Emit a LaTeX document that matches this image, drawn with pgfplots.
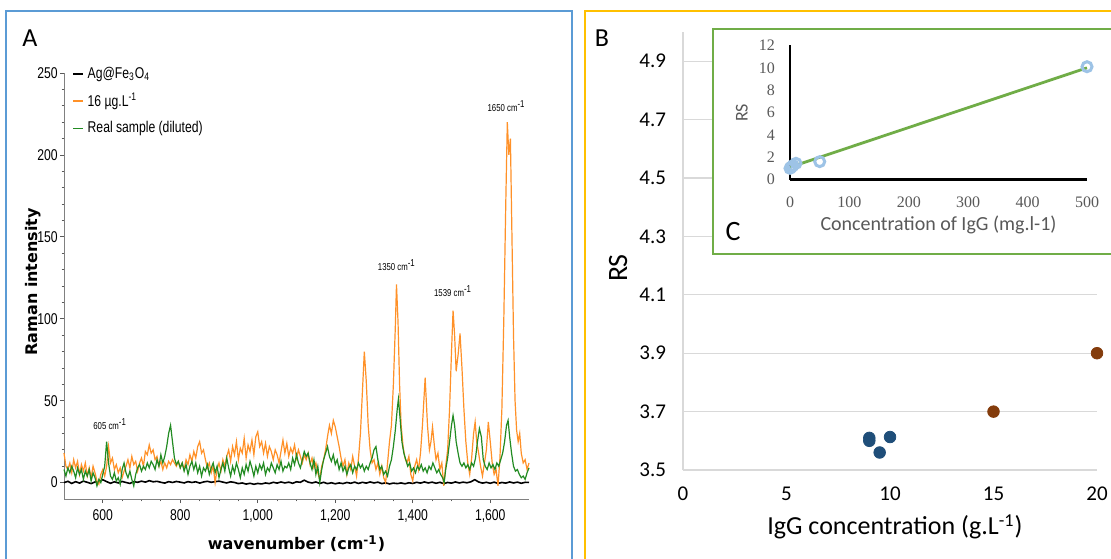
\documentclass[border=0pt]{standalone}
\usepackage{fontspec}
\setmainfont{Carlito}
\newfontfamily\condfont{Liberation Sans}[FakeStretch=0.78]
\newfontfamily\dvs{DejaVu Sans}
\newfontfamily\serf{Liberation Serif}
\usepackage{pgfplots}
\pgfplotsset{compat=1.18}
\definecolor{borderblue}{HTML}{5B9BD5}
\definecolor{bordergold}{HTML}{FFC000}
\definecolor{insetgreen}{HTML}{70AD47}
\definecolor{ramanorange}{RGB}{255,145,40}
\definecolor{ramangreen}{RGB}{34,139,34}
\definecolor{dotblue}{HTML}{1F4E79}
\definecolor{dotbrown}{HTML}{843C0C}
\definecolor{circblue}{HTML}{9DC3E6}
\definecolor{gridgray}{HTML}{D9D9D9}
\definecolor{txtgray}{HTML}{595959}
\begin{document}
\begin{tikzpicture}
\useasboundingbox (0,0) rectangle (555.5pt,279pt);
\clip (0,0) rectangle (555.5pt,279pt);
\draw[borderblue,line width=1.2pt] (3pt,-5pt) rectangle (286pt,273.5pt);
\draw[bordergold,line width=1.2pt] (292.5pt,-5pt) rectangle (560pt,273.5pt);
\node[font=\fontsize{13}{13}\selectfont] at (15pt,260pt) {A};
\node[font=\fontsize{13}{13}\selectfont] at (301pt,260pt) {B};
% ---------------- Panel A
\begin{axis}[at={(32pt,29.5pt)}, anchor=south west, scale only axis,
  width=232.5pt, height=213pt,
  xmin=500, xmax=1700, ymin=-10, ymax=250,
  axis lines*=left,
  axis line style={gray, line width=0.5pt},
  tick style={gray!70!black, line width=0.4pt},
  tick align=outside, major tick length=2pt, minor tick length=1.2pt,
  xtick={600,800,...,1600}, minor x tick num=3,
  ytick={0,50,...,250}, minor y tick num=4,
  /pgf/number format/assume math mode=true,
  /pgf/number format/1000 sep={,},
  tick label style={font=\condfont\fontsize{7.8}{9}\selectfont},
  yticklabel style={inner sep=1pt},
  xlabel={\dvs\bfseries wavenumber (cm\textsuperscript{-1})},
  ylabel={\dvs\bfseries Raman intensity},
  xlabel style={at={(axis description cs:0.5,-0.105)}, anchor=center, font=\fontsize{8}{9}\selectfont},
  ylabel style={at={(axis description cs:-0.067,0.51)}, anchor=center, font=\fontsize{8}{9}\selectfont},
  legend style={at={(rel axis cs:0.017,1.025)}, anchor=north west, draw=none, fill=none,
    font=\condfont\fontsize{7.8}{9}\selectfont, row sep=2pt, inner sep=0pt},
  legend cell align=left,
  legend image code/.code={\draw[#1,line width=0.7pt] (0pt,0pt) -- (5pt,0pt);},
  clip=false,
]
\addplot[black, line width=0.8pt] coordinates {
(500,0)(510,0.8)(520,-0.5)(530,0.6)(540,-0.3)(550,0.9)(560,0.2)(570,-0.6)(580,0.4)(590,0.5)(600,1.8)(610,0.6)(620,-0.4)(630,0.5)(640,-0.2)(650,0.7)(660,0.1)(670,-0.5)(680,0.6)(690,0.2)(700,0.9)(710,0.3)(720,1.2)(730,0.5)(740,0.8)(750,0.2)(760,-0.3)(770,0.6)(780,0.1)(790,0.7)(800,0.3)(810,-0.2)(820,0.6)(830,0.1)(840,0.5)(850,-0.3)(860,0.4)(870,0.8)(880,0.2)(890,0.6)(900,0.9)(910,0.3)(920,-0.2)(930,0.5)(940,0.1)(950,-0.6)(960,-0.2)(970,-0.9)(980,-0.4)(990,-1.0)(1000,-0.5)(1010,-0.8)(1020,-0.2)(1030,-0.6)(1040,0.2)(1050,-0.3)(1060,0.4)(1070,-0.2)(1080,0.3)(1090,-0.4)(1100,0.5)(1110,0.2)(1120,1.5)(1130,0.3)(1140,-0.2)(1150,0.4)(1160,-0.5)(1170,0.2)(1180,-0.6)(1190,-0.1)(1200,-0.7)(1210,-0.2)(1220,-0.6)(1230,0.1)(1240,-0.4)(1250,0.3)(1260,-0.5)(1270,0.2)(1280,-0.3)(1290,0.4)(1300,-0.2)(1310,0.3)(1320,-0.6)(1330,-0.1)(1340,-0.8)(1350,-0.3)(1360,-0.6)(1370,-0.2)(1380,-0.7)(1390,-0.1)(1400,-0.5)(1410,0.2)(1420,-0.3)(1430,0.4)(1440,-0.2)(1450,0.3)(1460,-0.4)(1470,0.2)(1480,-0.6)(1490,0.1)(1500,-0.3)(1510,0.4)(1520,-0.2)(1530,0.3)(1540,-0.1)(1550,0.5)(1560,1.8)(1570,0.4)(1580,-0.3)(1590,0.2)(1600,-0.4)(1610,0.3)(1620,-0.5)(1630,0.1)(1640,-0.3)(1650,0.4)(1660,-0.2)(1670,0.3)(1680,-0.4)(1690,0.2)(1700,0.1)};
\addlegendentry{Ag@Fe\textsubscript{3}O\textsubscript{4}}
\addplot[ramanorange, line width=0.6pt] coordinates {
(500,18)(505,10)(510,8)(515,12)(520,6)(525,14)(530,9)(535,13)(540,5)(545,11)(550,7)(555,12)(560,4)(565,9)(570,3)(575,10)(580,6)(585,1)(590,-1)(595,5)(600,8)(605,4)(610,10)(615,22)(620,12)(625,15)(630,8)(635,11)(640,6)(645,9)(650,3)(655,7)(660,10)(665,14)(670,9)(675,16)(680,11)(685,13)(690,7)(695,12)(700,15)(705,10)(710,19)(715,17)(720,23)(725,18)(730,20)(735,14)(740,16)(745,10)(750,13)(755,8)(760,12)(765,9)(770,13)(775,11)(780,14)(785,12)(790,10)(795,13)(800,9)(805,12)(810,8)(815,14)(820,11)(825,17)(830,13)(835,19)(840,15)(845,22)(850,25)(855,18)(860,20)(865,14)(870,9)(875,12)(880,6)(885,10)(890,0)(895,8)(900,12)(905,7)(910,14)(915,10)(920,16)(925,20)(930,13)(935,22)(940,17)(945,25)(950,14)(955,21)(960,18)(965,27)(970,15)(975,23)(980,19)(985,26)(990,17)(995,28)(1000,31)(1005,22)(1010,25)(1015,18)(1020,24)(1025,16)(1030,22)(1035,19)(1040,14)(1045,20)(1050,17)(1055,12)(1060,19)(1065,26)(1070,18)(1075,24)(1080,16)(1085,21)(1090,18)(1095,23)(1100,15)(1105,20)(1110,16)(1115,12)(1120,17)(1125,14)(1130,18)(1135,11)(1140,15)(1145,9)(1150,12)(1155,6)(1160,2)(1165,10)(1170,14)(1175,20)(1180,28)(1185,35)(1190,30)(1195,38)(1200,34)(1205,28)(1210,22)(1215,15)(1220,10)(1225,14)(1230,5)(1235,12)(1240,8)(1245,16)(1250,10)(1255,4)(1260,15)(1265,30)(1270,55)(1275,80)(1280,62)(1285,35)(1290,20)(1295,12)(1300,14)(1305,8)(1310,12)(1315,5)(1320,10)(1325,3)(1330,0)(1335,12)(1340,25)(1345,35)(1350,60)(1355,95)(1358,121)(1362,98)(1366,60)(1370,35)(1375,22)(1380,15)(1385,12)(1390,16)(1395,5)(1400,1)(1405,10)(1410,14)(1415,8)(1420,18)(1425,35)(1432,64)(1438,35)(1443,20)(1447,25)(1451,34)(1456,22)(1460,14)(1465,18)(1470,8)(1475,12)(1480,-2)(1485,10)(1490,20)(1495,45)(1500,80)(1504,105)(1508,90)(1512,68)(1517,78)(1522,91)(1527,70)(1532,45)(1537,25)(1542,12)(1547,5)(1552,15)(1557,30)(1561,37)(1565,25)(1570,18)(1575,10)(1580,4)(1585,12)(1590,20)(1595,37)(1600,25)(1605,12)(1610,5)(1615,8)(1620,-2)(1625,15)(1630,45)(1635,100)(1640,170)(1644,220)(1648,200)(1652,210)(1656,150)(1660,90)(1664,50)(1668,32)(1672,25)(1676,30)(1680,18)(1685,12)(1690,14)(1695,8)(1700,12)};
\addlegendentry{16 µg.L\textsuperscript{-1}}
\addplot[ramangreen, line width=0.6pt] coordinates {
(500,8)(505,4)(510,9)(515,6)(520,10)(525,7)(530,3)(535,9)(540,5)(545,8)(550,2)(555,7)(560,4)(565,8)(570,1)(575,6)(580,3)(585,-2)(590,2)(595,0)(600,5)(605,10)(610,25)(615,12)(620,4)(625,2)(630,6)(635,1)(640,3)(645,-1)(650,8)(655,12)(660,6)(665,3)(670,7)(675,2)(680,-2)(685,5)(690,9)(695,11)(700,7)(705,10)(710,8)(715,12)(720,9)(725,13)(730,11)(735,8)(740,14)(745,10)(750,17)(755,12)(760,16)(765,22)(770,30)(775,35)(780,25)(785,15)(790,11)(795,13)(800,9)(805,12)(810,7)(815,11)(820,5)(825,10)(830,13)(835,8)(840,12)(845,6)(850,10)(855,4)(860,9)(865,7)(870,11)(875,5)(880,9)(885,12)(890,6)(895,10)(900,3)(905,8)(910,12)(915,7)(920,15)(925,9)(930,4)(935,10)(940,6)(945,12)(950,8)(955,3)(960,9)(965,5)(970,11)(975,7)(980,13)(985,9)(990,4)(995,10)(1000,6)(1005,11)(1010,8)(1015,12)(1020,5)(1025,9)(1030,7)(1035,12)(1040,9)(1045,6)(1050,11)(1055,8)(1060,13)(1065,7)(1070,10)(1075,9)(1080,12)(1085,8)(1090,15)(1095,11)(1100,17)(1105,12)(1110,9)(1115,14)(1120,19)(1125,16)(1130,18)(1135,12)(1140,8)(1145,14)(1150,5)(1155,10)(1160,0)(1165,8)(1170,14)(1175,18)(1180,22)(1185,16)(1190,13)(1195,17)(1200,11)(1205,14)(1210,8)(1215,12)(1220,7)(1225,10)(1230,5)(1235,9)(1240,11)(1245,6)(1250,10)(1255,8)(1260,12)(1265,9)(1270,11)(1275,7)(1280,10)(1285,8)(1290,12)(1295,15)(1300,20)(1305,22)(1310,14)(1315,8)(1320,10)(1325,5)(1330,7)(1335,4)(1340,10)(1345,14)(1350,22)(1355,32)(1360,45)(1363,51)(1367,40)(1372,25)(1377,18)(1382,14)(1387,10)(1392,12)(1397,7)(1402,9)(1407,6)(1412,10)(1417,8)(1422,11)(1427,7)(1432,9)(1437,6)(1442,10)(1447,8)(1452,12)(1457,9)(1462,6)(1467,8)(1472,5)(1477,3)(1481,0)(1485,8)(1490,15)(1495,25)(1500,35)(1504,41)(1508,35)(1512,25)(1517,18)(1522,12)(1527,10)(1532,12)(1537,9)(1542,11)(1547,8)(1552,12)(1557,10)(1562,15)(1567,25)(1572,33)(1577,28)(1582,14)(1587,10)(1592,8)(1597,12)(1602,9)(1607,11)(1612,8)(1617,12)(1622,10)(1627,14)(1632,18)(1637,25)(1642,35)(1646,38)(1650,28)(1655,18)(1660,10)(1665,7)(1670,8)(1675,5)(1680,3)(1685,4)(1690,2)(1695,6)(1700,9)};
\addlegendentry{Real sample (diluted)}
\node[font=\condfont\fontsize{5}{6}\selectfont] at (axis cs:619,36) {605 cm\textsuperscript{-1}};
\node[font=\condfont\fontsize{5}{6}\selectfont] at (axis cs:1359,133) {1350 cm\textsuperscript{-1}};
\node[font=\condfont\fontsize{5}{6}\selectfont] at (axis cs:1504,117) {1539 cm\textsuperscript{-1}};
\node[font=\condfont\fontsize{5}{6}\selectfont] at (axis cs:1642,230) {1650 cm\textsuperscript{-1}};
\end{axis}
% ---------------- Panel B
\begin{axis}[at={(341.5pt,44pt)}, anchor=south west, scale only axis,
  width=207pt, height=219pt,
  xmin=0, xmax=20, ymin=3.5, ymax=5.0,
  axis lines*=left,
  axis line style={gridgray, line width=0.6pt},
  ymajorgrids, grid style={gridgray, line width=0.6pt},
  major tick length=0pt,
  xtick={0,5,10,15,20},
  ytick={3.5,3.7,3.9,4.1,4.3,4.5,4.7,4.9},
  /pgf/number format/assume math mode=true,
  yticklabel style={/pgf/number format/fixed, /pgf/number format/fixed zerofill, /pgf/number format/precision=1, xshift=-5pt},
  xticklabel style={yshift=-5pt},
  tick label style={font=\fontsize{10.5}{12}\selectfont},
  xlabel={IgG concentration (g.L\textsuperscript{-1})},
  ylabel={RS},
  xlabel style={at={(axis description cs:0.512,-0.13)}, anchor=center, font=\fontsize{13}{15}\selectfont},
  ylabel style={at={(axis description cs:-0.157,0.461)}, anchor=center, font=\fontsize{14}{16}\selectfont},
  clip=false,
]
\addplot[only marks, mark=*, mark size=2.9pt, dotblue] coordinates {(9,3.61)(9,3.60)(9.5,3.56)(10,3.613)};
\addplot[only marks, mark=*, mark size=2.9pt, dotbrown] coordinates {(15,3.70)(20,3.90)};
\end{axis}
\filldraw[fill=white, draw=insetgreen, line width=1.2pt] (356.5pt,152pt) rectangle (570pt,264.6pt);
% ---------------- Inset C
\begin{axis}[at={(395pt,189.25pt)}, anchor=south west, scale only axis,
  width=148.5pt, height=67pt,
  xmin=0, xmax=500, ymin=0, ymax=12,
  axis lines*=left,
  axis line style={black, line width=1.4pt},
  major tick length=0pt,
  xtick={0,100,...,500}, ytick={0,2,...,12},
  /pgf/number format/assume math mode=true,
  tick label style={font=\serf\fontsize{8}{9}\selectfont, text=txtgray},
  yticklabel style={xshift=-4pt},
  xticklabel style={yshift=-5pt},
  xlabel={Concentration of IgG (mg.l-1)},
  ylabel={RS},
  xlabel style={at={(axis description cs:0.5,-0.34)}, anchor=center, font=\fontsize{10}{12}\selectfont, text=txtgray},
  ylabel style={at={(axis description cs:-0.162,0.496)}, anchor=center, font=\fontsize{9}{11}\selectfont, text=txtgray},
  clip=false,
]
\addplot[insetgreen, line width=1.4pt] coordinates {(0,1.1)(500,10.0)};
\addplot[only marks, mark=o, mark size=2.5pt, circblue, line width=1.5pt] coordinates {(0,1.0)(2,1.1)(5,1.25)(10,1.45)(50,1.6)(500,10.1)};
\end{axis}
\node[font=\fontsize{14}{14}\selectfont] at (366.5pt,163pt) {C};
\end{tikzpicture}
\end{document}
